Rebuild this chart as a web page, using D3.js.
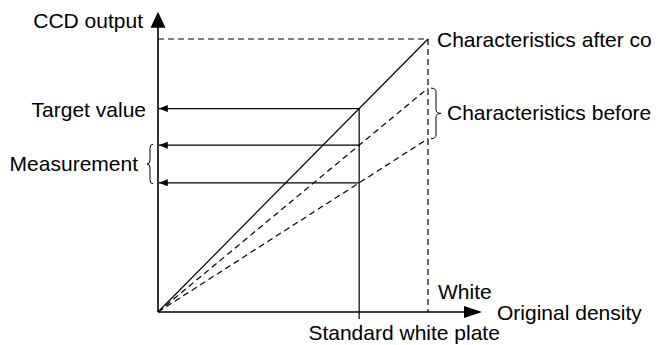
<!DOCTYPE html>
<html>
<head>
<meta charset="utf-8">
<script src="https://cdn.jsdelivr.net/npm/d3@7"></script>
<style>
  html, body { margin: 0; padding: 0; background: #fff; }
  svg { display: block; }
  text { font-family: "Liberation Sans", Arial, Helvetica, sans-serif; font-size: 21px; fill: #000; }
</style>
</head>
<body>
<svg id="chart" width="656" height="345"></svg>
<script>
// Original density (x) relative to the white point; CCD output (y) relative to full scale.
const axisMax = { density: 1.2, output: 1.1 };
const whiteDensity = 1.0;
const plateDensity = 0.745;
const fullScaleOutput = 1.0;

// Output reached at the white point by each characteristic line
const characteristicNames = ["after", "beforeHigh", "beforeLow"];
const characteristicWhiteOutput = [1.0, 0.82, 0.635];
const characteristicDashed = [false, true, true];

// Text labels
const labelCcd = "CCD output";
const labelDensity = "Original density";
const labelTarget = "Target value";
const labelMeasurement = "Measurement";
const labelAfter = "Characteristics after co";
const labelBefore = "Characteristics before";
const labelWhite = "White";
const labelPlate = "Standard white plate";

const svg = d3.select("#chart");

const x = d3.scaleLinear().domain([0, 1]).range([158, 428]);
const y = d3.scaleLinear().domain([0, 1]).range([312, 39]);

// Arrowhead markers
const defs = svg.append("defs");
defs.append("marker")
  .attr("id", "smallArrow")
  .attr("viewBox", "0 0 10 8")
  .attr("refX", 10).attr("refY", 4)
  .attr("markerWidth", 10).attr("markerHeight", 7)
  .attr("markerUnits", "userSpaceOnUse")
  .attr("orient", "auto")
  .append("path").attr("d", "M0,0 L10,4 L0,8 Z").attr("fill", "#000");

const dash = "6,4";
const g = svg.append("g").attr("fill", "none").attr("stroke", "#000");

// Full-scale reference: horizontal dashed line at top and vertical dashed line at white
g.append("line")
  .attr("x1", x(0)).attr("x2", x(whiteDensity))
  .attr("y1", y(fullScaleOutput)).attr("y2", y(fullScaleOutput))
  .attr("stroke-width", 1.2).attr("stroke-dasharray", dash);
g.append("line")
  .attr("x1", x(whiteDensity)).attr("x2", x(whiteDensity))
  .attr("y1", y(fullScaleOutput)).attr("y2", y(0))
  .attr("stroke-width", 1.2).attr("stroke-dasharray", dash);

// Characteristic lines from the origin to the white point
characteristicNames.forEach((name, i) => {
  g.append("line")
    .attr("class", "char-" + name)
    .attr("x1", x(0)).attr("y1", y(0))
    .attr("x2", x(whiteDensity)).attr("y2", y(characteristicWhiteOutput[i]))
    .attr("stroke-width", 1.2)
    .attr("stroke-dasharray", characteristicDashed[i] ? dash : null);
});

// Standard white plate position
const plateOutputs = characteristicWhiteOutput.map(v => v * plateDensity / whiteDensity);
g.append("line")
  .attr("x1", x(plateDensity)).attr("x2", x(plateDensity))
  .attr("y1", y(d3.max(plateOutputs))).attr("y2", y(0) + 7)
  .attr("stroke-width", 1.2);

// Read-out arrows from the plate to the output axis
plateOutputs.forEach(v => {
  g.append("line")
    .attr("x1", x(plateDensity)).attr("y1", y(v))
    .attr("x2", x(0) + 1).attr("y2", y(v))
    .attr("stroke-width", 1.2)
    .attr("marker-end", "url(#smallArrow)");
});

// Axes with large filled arrowheads
g.append("line")
  .attr("x1", x(0)).attr("y1", y(0))
  .attr("x2", x(0)).attr("y2", y(axisMax.output) + 14)
  .attr("stroke-width", 1.6);
g.append("line")
  .attr("x1", x(0)).attr("y1", y(0))
  .attr("x2", x(axisMax.density) - 16).attr("y2", y(0))
  .attr("stroke-width", 1.6);
svg.append("path")
  .attr("d", `M${x(0)},${y(axisMax.output)} L${x(0) + 7.5},${y(axisMax.output) + 16} L${x(0) - 7.5},${y(axisMax.output) + 16} Z`)
  .attr("fill", "#000");
svg.append("path")
  .attr("d", `M${x(axisMax.density)},${y(0)} L${x(axisMax.density) - 18},${y(0) - 6} L${x(axisMax.density) - 18},${y(0) + 6} Z`)
  .attr("fill", "#000");

// Curly brace: tips at (x0, y1) and (x0, y2), point at (x0 + dir*w, middle)
function brace(x0, y1, y2, w, dir) {
  const ym = (y1 + y2) / 2, h = w / 2 * dir, r = 4;
  return `M${x0},${y1} Q${x0 + h},${y1} ${x0 + h},${y1 + r} L${x0 + h},${ym - r} ` +
         `Q${x0 + h},${ym} ${x0 + w * dir},${ym} Q${x0 + h},${ym} ${x0 + h},${ym + r} ` +
         `L${x0 + h},${y2 - r} Q${x0 + h},${y2} ${x0},${y2}`;
}
g.append("path")
  .attr("d", brace(x(whiteDensity) + 3, y(characteristicWhiteOutput[1]), y(characteristicWhiteOutput[2]), 10, 1))
  .attr("stroke-width", 1);
g.append("path")
  .attr("d", brace(x(0) - 5, y(plateOutputs[1]) - 1, y(plateOutputs[2]) + 1, 6, -1))
  .attr("stroke-width", 1);

// Labels
const t = svg.append("g");
t.append("text").attr("x", 143).attr("y", 28).attr("text-anchor", "end").text(labelCcd);
t.append("text").attr("x", 146).attr("y", y(plateOutputs[0]) + 8).attr("text-anchor", "end").text(labelTarget);
t.append("text").attr("x", 138).attr("y", (y(plateOutputs[1]) + y(plateOutputs[2])) / 2 + 7).attr("text-anchor", "end").text(labelMeasurement);
t.append("text").attr("x", x(whiteDensity) + 9).attr("y", y(fullScaleOutput) + 8).text(labelAfter);
t.append("text").attr("x", x(whiteDensity) + 19).attr("y", (y(characteristicWhiteOutput[1]) + y(characteristicWhiteOutput[2])) / 2 + 7).text(labelBefore);
t.append("text").attr("x", x(whiteDensity) + 10).attr("y", y(0) - 13).text(labelWhite);
t.append("text").attr("x", x(axisMax.density) + 15).attr("y", y(0) + 8).text(labelDensity);
t.append("text").attr("x", x(plateDensity) + 45).attr("y", 340).attr("text-anchor", "middle").text(labelPlate);
</script>
</body>
</html>
